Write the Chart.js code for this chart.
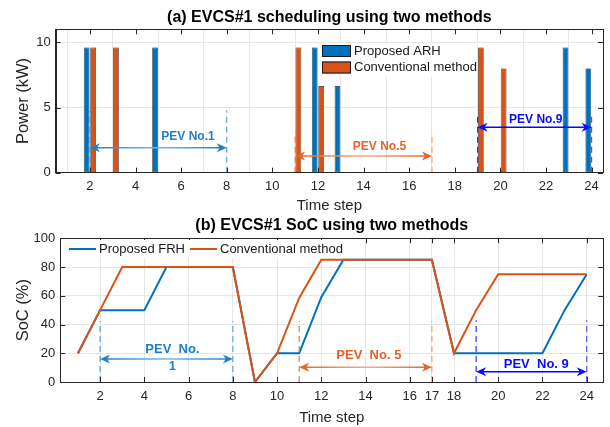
<!DOCTYPE html>
<html>
<head>
<meta charset="utf-8">
<script src="https://cdn.jsdelivr.net/npm/chart.js@4.4.1/dist/chart.umd.min.js"></script>
<style>
    body { margin: 0; background: #fff; }
    #wrap { position: relative; width: 610px; height: 427px; }
    #powerChart { position: absolute; left: 0; top: 0; }
    #socChart { position: absolute; left: 0; top: 215px; }
</style>
</head>
<body>
<div id="wrap">
    <canvas id="powerChart" width="610" height="215"></canvas>
    <canvas id="socChart" width="610" height="212"></canvas>
</div>
<script>
var steps = [1, 2, 3, 4, 5, 6, 7, 8, 9, 10, 11, 12, 13, 14, 15, 16, 17, 18, 19, 20, 21, 22, 23, 24];

// (a) charging power, kW
var arhPower = [0, 9.6, 0, 0, 9.6, 0, 0, 0, 0, 0, 0, 9.6, 6.65, 0, 0, 0, 0, 0, 0, 0, 0, 0, 9.6, 8.0];
var convPower = [0, 9.6, 9.6, 0, 0, 0, 0, 0, 0, 0, 9.6, 6.65, 0, 0, 0, 0, 0, 0, 9.6, 8.0, 0, 0, 0, 0];
var powerXTicks = [2, 4, 6, 8, 10, 12, 14, 16, 18, 20, 22, 24];
var powerYTicks = [0, 5, 10];

// (b) state of charge, %
var frhSoc = [20, 50, 50, 50, 80, 80, 80, 80, 0, 20, 20, 59, 85, 85, 85, 85, 85, 20, 20, 20, 20, 20, 50, 75];
var convSoc = [20, 50, 80, 80, 80, 80, 80, 80, 0, 20, 58.5, 85, 85, 85, 85, 85, 85, 20, 50, 75, 75, 75, 75, 75];
var socXTicks = [2, 4, 6, 8, 10, 12, 14, 16, 17, 18, 20, 22, 24];
var socYTicks = [0, 20, 40, 60, 80, 100];

// PEV parking windows
var pevFrom = [2, 11, 19];
var pevTo = [8, 17, 24];
var pevTextColor = ['#1f7fc8', '#e0652c', '#0a0aff'];
var pevArrowMid = ['#7ab8e4', '#f3ad8a', '#0000ff'];
var pevDashFrom = ['#4f9fd8', '#e07a48', '#3030ff'];
var pevDashTo = ['#5aa6dc', '#f0a27a', '#5050ff'];

var powerLabels = [['PEV No.1'], ['PEV No.5'], ['PEV No.9']];
var powerLabelX = [6.3, 14.7, 21.55];
var powerLabelY = [2.76, 2.0, 4.1];
var powerArrowY = [1.91, 1.28, 3.48];
var powerDashTop = [4.8, 3.1, 4.45];

var socLabels = [['PEV  No.', '1'], ['PEV  No. 5'], ['PEV  No. 9']];
var socLabelX = [5.27, 14.15, 21.72];
var socLabelY = [22.7, 18.8, 12.3];
var socArrowY = [16, 10.2, 7.2];
var socDashTop = [42.4, 42.5, 43];

var FONT = '"Liberation Sans", Arial, Helvetica, sans-serif';
var AXIS_COLOR = '#262626';
var GRID_COLOR = '#e6e6e6';

function fixedTicks(list) {
    return function (scale) {
        scale.ticks = list.map(function (v) { return {value: v}; });
    };
}

function arrowHead(ctx, x, y, dir, color) {
    ctx.fillStyle = color;
    ctx.beginPath();
    ctx.moveTo(x, y);
    ctx.lineTo(x - dir * 10, y - 4.5);
    ctx.lineTo(x - dir * 7, y);
    ctx.lineTo(x - dir * 10, y + 4.5);
    ctx.closePath();
    ctx.fill();
}

function dashedLine(ctx, x, y1, y2, color) {
    ctx.save();
    ctx.strokeStyle = color;
    ctx.lineWidth = 1.2;
    ctx.setLineDash([6, 4]);
    ctx.beginPath();
    ctx.moveTo(x, y1);
    ctx.lineTo(x, y2);
    ctx.stroke();
    ctx.restore();
}

// dashed window bounds, double arrow and bold label for each PEV
function pevMarks(labels, labelX, labelY, arrowY, dashTop, fontSize) {
    return {
        id: 'pevMarks',
        afterDatasetsDraw: function (chart) {
            var ctx = chart.ctx;
            var xs = chart.scales.x, ys = chart.scales.y;
            var y0 = ys.getPixelForValue(0);
            ctx.save();
            for (var i = 0; i < pevFrom.length; i++) {
                var x1 = xs.getPixelForValue(pevFrom[i]);
                var x2 = xs.getPixelForValue(pevTo[i]);
                var top = ys.getPixelForValue(dashTop[i]);
                dashedLine(ctx, x1, y0, top, pevDashFrom[i]);
                dashedLine(ctx, x2, y0, top, pevDashTo[i]);

                var ay = ys.getPixelForValue(arrowY[i]);
                var g = ctx.createLinearGradient(x1, 0, x2, 0);
                g.addColorStop(0, pevTextColor[i]);
                g.addColorStop(0.5, pevArrowMid[i]);
                g.addColorStop(1, pevTextColor[i]);
                ctx.strokeStyle = g;
                ctx.lineWidth = 1.5;
                ctx.beginPath();
                ctx.moveTo(x1 + 5, ay);
                ctx.lineTo(x2 - 5, ay);
                ctx.stroke();
                arrowHead(ctx, x1, ay, -1, pevTextColor[i]);
                arrowHead(ctx, x2, ay, 1, pevTextColor[i]);

                ctx.fillStyle = pevTextColor[i];
                ctx.font = 'bold ' + fontSize + 'px ' + FONT;
                ctx.textAlign = 'center';
                ctx.textBaseline = 'middle';
                var lx = xs.getPixelForValue(labelX[i]);
                var ly = ys.getPixelForValue(labelY[i]);
                labels[i].forEach(function (t, k) {
                    ctx.fillText(t, lx, ly + k * 17);
                });
            }
            ctx.restore();
        }
    };
}

// MATLAB-like closed box with inward tick marks
var boxTicks = {
    id: 'boxTicks',
    afterDraw: function (chart) {
        var ctx = chart.ctx, a = chart.chartArea;
        var xs = chart.scales.x, ys = chart.scales.y;
        ctx.save();
        ctx.strokeStyle = AXIS_COLOR;
        ctx.lineWidth = 1;
        ctx.beginPath();
        xs.ticks.forEach(function (t) {
            var px = Math.round(xs.getPixelForValue(t.value)) + 0.5;
            ctx.moveTo(px, a.bottom); ctx.lineTo(px, a.bottom - 5);
            ctx.moveTo(px, a.top); ctx.lineTo(px, a.top + 5);
        });
        ys.ticks.forEach(function (t) {
            var py = Math.round(ys.getPixelForValue(t.value)) + 0.5;
            ctx.moveTo(a.left, py); ctx.lineTo(a.left + 5, py);
            ctx.moveTo(a.right, py); ctx.lineTo(a.right - 5, py);
        });
        ctx.stroke();
        ctx.strokeRect(Math.round(a.left) + 0.5, Math.round(a.top) + 0.5,
                Math.round(a.right - a.left), Math.round(a.bottom - a.top));
        ctx.restore();
    }
};

var powerLegend = {
    id: 'powerLegend',
    afterDraw: function (chart) {
        var ctx = chart.ctx;
        ctx.save();
        ctx.fillStyle = '#fff';
        ctx.fillRect(320, 43, 156, 34);
        ctx.font = '13px ' + FONT;
        ctx.textBaseline = 'middle';
        ctx.textAlign = 'left';
        chart.data.datasets.forEach(function (ds, i) {
            var cy = 51 + i * 16.5;
            ctx.fillStyle = ds.backgroundColor;
            ctx.fillRect(322, cy - 6, 29, 12);
            ctx.strokeStyle = '#1a1a1a';
            ctx.lineWidth = 1;
            ctx.strokeRect(322.5, cy - 5.5, 28, 11);
            ctx.fillStyle = '#1a1a1a';
            ctx.fillText(ds.label, 354, cy);
        });
        ctx.restore();
    }
};

var socLegend = {
    id: 'socLegend',
    afterDraw: function (chart) {
        var ctx = chart.ctx;
        var lineX = [69, 190];
        var cy = 34;
        ctx.save();
        ctx.fillStyle = '#fff';
        ctx.fillRect(63, 25, 272, 18);
        ctx.font = '13px ' + FONT;
        ctx.textBaseline = 'middle';
        ctx.textAlign = 'left';
        chart.data.datasets.forEach(function (ds, i) {
            ctx.strokeStyle = ds.borderColor;
            ctx.lineWidth = 2;
            ctx.beginPath();
            ctx.moveTo(lineX[i], cy);
            ctx.lineTo(lineX[i] + 27, cy);
            ctx.stroke();
            ctx.fillStyle = '#1a1a1a';
            ctx.fillText(ds.label, lineX[i] + 30, cy);
        });
        ctx.restore();
    }
};

function xyPoints(values) {
    return steps.map(function (s, i) { return {x: s, y: values[i]}; });
}

function axisOptions(min, max, tickList, titleText, fixSize, isX, tickPad, titlePad, titleSize) {
    return {
        type: 'linear',
        min: min,
        max: max,
        offset: false,
        afterBuildTicks: fixedTicks(tickList),
        afterFit: function (scale) {
            if (isX) {
                scale.height = fixSize;
            } else {
                scale.width = fixSize;
            }
        },
        grid: {color: GRID_COLOR, drawTicks: false, lineWidth: 1},
        border: {display: true, color: AXIS_COLOR, width: 1},
        ticks: {
            color: AXIS_COLOR,
            padding: tickPad,
            autoSkip: false,
            maxRotation: 0,
            font: {family: FONT, size: 13},
            callback: function (v) { return String(v); }
        },
        title: {
            display: true,
            text: titleText,
            color: AXIS_COLOR,
            font: {family: FONT, size: titleSize},
            padding: titlePad
        }
    };
}

Chart.defaults.font.family = FONT;

new Chart(document.getElementById('powerChart'), {
    type: 'bar',
    data: {
        datasets: [
            {
                label: 'Proposed ARH',
                data: xyPoints(arhPower),
                backgroundColor: '#0072BD',
                borderColor: '#222222',
                borderWidth: 0.7,
                borderSkipped: false
            },
            {
                label: 'Conventional method',
                data: xyPoints(convPower),
                backgroundColor: '#D95319',
                borderColor: '#222222',
                borderWidth: 0.7,
                borderSkipped: false
            }
        ]
    },
    options: {
        responsive: false,
        animation: false,
        events: [],
        categoryPercentage: 0.5714,
        barPercentage: 0.88,
        layout: {padding: {left: 0, right: 7, top: 0, bottom: 0}},
        scales: {
            x: axisOptions(0.5, 24.5, powerXTicks, 'Time step', 42.3, true, 6, {top: 0, bottom: 0}, 15),
            y: axisOptions(0, 11, powerYTicks, 'Power (kW)', 55.7, false, 5, {top: 13.5, bottom: 0}, 16.5)
        },
        plugins: {
            legend: {display: false},
            tooltip: {enabled: false},
            title: {
                display: true,
                fullSize: false,
                text: '(a) EVCS#1 scheduling using two methods',
                color: '#000',
                font: {family: FONT, size: 16, weight: 'bold'},
                padding: {top: 8, bottom: 2.1}
            }
        }
    },
    plugins: [pevMarks(powerLabels, powerLabelX, powerLabelY, powerArrowY, powerDashTop, 12), boxTicks, powerLegend]
});

new Chart(document.getElementById('socChart'), {
    type: 'line',
    data: {
        datasets: [
            {
                label: 'Proposed FRH',
                data: xyPoints(frhSoc),
                borderColor: '#0072BD',
                borderWidth: 2,
                pointRadius: 0,
                tension: 0,
                order: 2
            },
            {
                label: 'Conventional method',
                data: xyPoints(convSoc),
                borderColor: '#D95319',
                borderWidth: 2,
                pointRadius: 0,
                tension: 0,
                order: 1
            }
        ]
    },
    options: {
        responsive: false,
        animation: false,
        events: [],
        layout: {padding: {left: 0, right: 6.7, top: 0, bottom: 0}},
        scales: {
            x: axisOptions(0.2, 24.75, socXTicks, 'Time step', 45, true, 7, {top: 0, bottom: 0}, 15),
            y: axisOptions(0, 100, socYTicks, 'SoC (%)', 60.3, false, 5, {top: 13.5, bottom: 0}, 16.5)
        },
        plugins: {
            legend: {display: false},
            tooltip: {enabled: false},
            title: {
                display: true,
                fullSize: false,
                text: '(b) EVCS#1 SoC using two methods',
                color: '#000',
                font: {family: FONT, size: 16, weight: 'bold'},
                padding: {top: 1, bottom: 3.1}
            }
        }
    },
    plugins: [pevMarks(socLabels, socLabelX, socLabelY, socArrowY, socDashTop, 13), boxTicks, socLegend]
});
</script>
</body>
</html>
